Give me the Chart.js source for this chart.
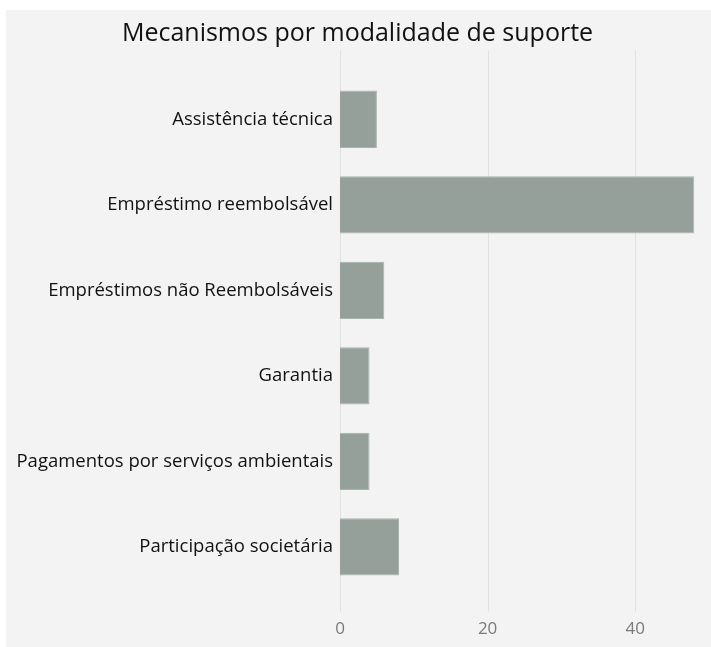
<!DOCTYPE html>
<html>
<head>
<meta charset="utf-8">
<script src="https://cdn.jsdelivr.net/npm/chart.js@4.4.0/dist/chart.umd.min.js"></script>
<style>
  html, body { margin: 0; padding: 0; background: #ffffff; }
  #wrap { width: 711px; height: 647px; }
</style>
</head>
<body>
<div id="wrap"><canvas id="myChart" width="711" height="647"></canvas></div>
<script>
const categories = [
  'Assistência técnica',
  'Empréstimo reembolsável',
  'Empréstimos não Reembolsáveis',
  'Garantia',
  'Pagamentos por serviços ambientais',
  'Participação societária'
];
const mechanismCounts = [5, 48, 6, 4, 4, 8];
const xTicks = [0, 20, 40];

const FONT = "'Open Sans', 'Noto Sans', sans-serif";

// gray panel and the vertical grid lines (they run past the bars a bit)
const backdrop = {
  id: 'backdrop',
  beforeDraw(chart) {
    const ctx = chart.ctx;
    const area = chart.chartArea;
    const x = chart.scales.x;
    ctx.save();
    ctx.fillStyle = '#f3f3f3';
    ctx.fillRect(6, 10, chart.width - 6, chart.height - 10);
    ctx.strokeStyle = '#e1e1e1';
    ctx.lineWidth = 1;
    xTicks.forEach(v => {
      const px = Math.round(x.getPixelForValue(v)) + 0.5;
      ctx.beginPath();
      ctx.moveTo(px, area.top - 26);
      ctx.lineTo(px, area.bottom + 22);
      ctx.stroke();
    });
    ctx.restore();
  }
};

const ctx = document.getElementById('myChart').getContext('2d');
const myChart = new Chart(ctx, {
  type: 'bar',
  data: {
    labels: categories,
    datasets: [
      {
        label: 'Mecanismos',
        data: mechanismCounts,
        backgroundColor: '#95a09a',
        borderColor: '#a9b3ae',
        borderWidth: 1,
        barPercentage: 0.67,
        categoryPercentage: 1
      }
    ]
  },
  options: {
    indexAxis: 'y',
    responsive: false,
    animation: false,
    layout: {
      padding: { left: 6, right: 2, top: 0, bottom: 6 }
    },
    scales: {
      x: {
        min: 0,
        max: 50,
        afterBuildTicks: s => { s.ticks = xTicks.map(v => ({ value: v })); },
        grid: { display: false, drawTicks: true, tickLength: 27 },
        border: { display: false },
        ticks: {
          color: '#7a7a7a',
          padding: 2,
          font: { family: FONT, size: 17 }
        }
      },
      y: {
        afterFit: s => { s.width = 334; },
        grid: { display: false, drawTicks: false },
        border: { display: false },
        ticks: {
          color: '#111111',
          padding: 7,
          font: { family: FONT, size: 18.5 }
        }
      }
    },
    plugins: {
      legend: { display: false },
      tooltip: { enabled: false },
      title: {
        display: true,
        text: 'Mecanismos por modalidade de suporte',
        color: '#111111',
        font: { family: FONT, size: 25, weight: 'normal' },
        padding: { top: 19, bottom: 27.5 }
      }
    }
  },
  plugins: [backdrop]
});
</script>
</body>
</html>
